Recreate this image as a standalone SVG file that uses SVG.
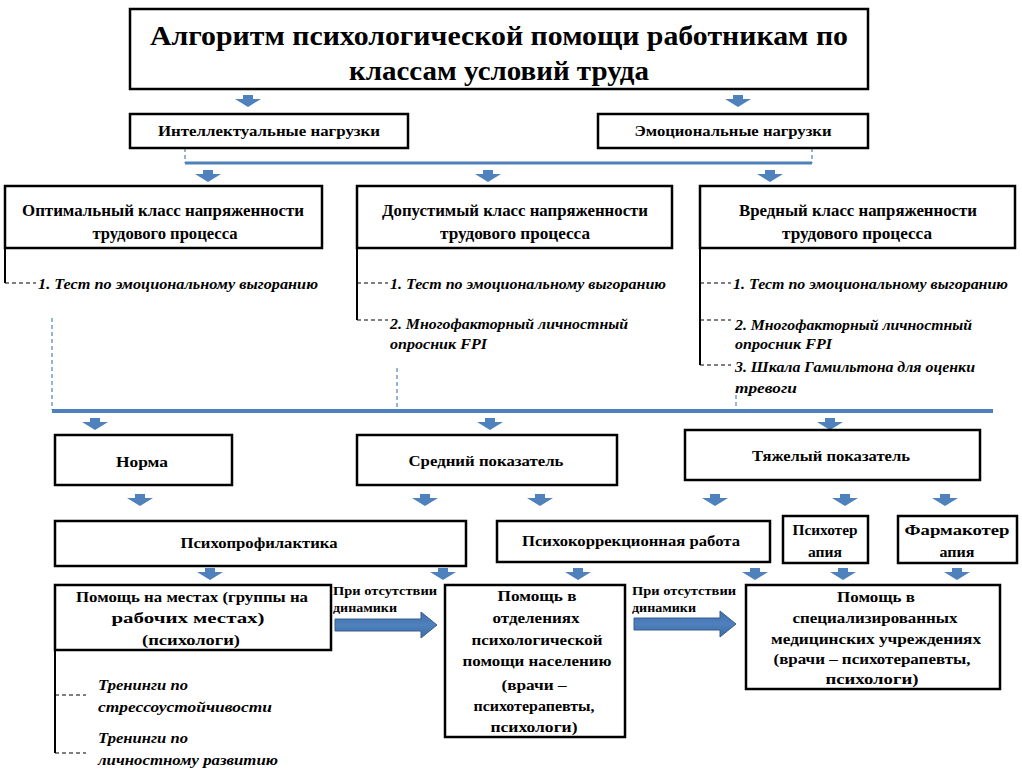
<svg xmlns="http://www.w3.org/2000/svg" xmlns:xlink="http://www.w3.org/1999/xlink" width="1022" height="780" viewBox="0 0 1022 780" font-family="Liberation Serif, DejaVu Serif, serif">
<style>
.box{fill:#fff;stroke:#000;stroke-width:2.5}
.t{font-weight:bold;fill:#000;text-anchor:middle}
.ti{font-weight:bold;font-style:italic;fill:#000}
.s{font-weight:bold;fill:#000;font-size:12px}
.bl{stroke:#000;stroke-width:2;fill:none}
.bd{stroke:#000;stroke-width:1.2;stroke-dasharray:4 3;fill:none}
.blue{stroke:#4F81BD;fill:none}
.bluedash{stroke:#4F81BD;stroke-width:1.2;stroke-dasharray:4 3;fill:none}
.sa{fill:#4F81BD}
.ba{fill:url(#g);stroke:#385D8A;stroke-width:1}
</style>
<defs>
<path id="sa" d="M-5,-6 H5 V-2 H13 L0,6 L-13,-2 H-5 Z"/>
<linearGradient id="g" x1="0" y1="0" x2="0" y2="1">
<stop offset="0" stop-color="#3F6FB0"/>
<stop offset="0.5" stop-color="#4F81BD"/>
<stop offset="1" stop-color="#3A6BA8"/>
</linearGradient>
<path id="ba" d="M0,-6 H86 V-13 L102,0 L86,13 V6 H0 Z"/>
</defs>
<rect width="1022" height="780" fill="#fff"/>

<g id="connectors">
<g class="sa">
<use xlink:href="#sa" x="248" y="101"/>
<use xlink:href="#sa" x="738" y="101"/>
<use xlink:href="#sa" x="208" y="176"/>
<use xlink:href="#sa" x="488" y="176"/>
<use xlink:href="#sa" x="770" y="176"/>
<use xlink:href="#sa" x="95" y="424"/>
<use xlink:href="#sa" x="490" y="424"/>
<use xlink:href="#sa" x="830" y="424"/>
<use xlink:href="#sa" x="140" y="500"/>
<use xlink:href="#sa" x="425" y="500"/>
<use xlink:href="#sa" x="540" y="500"/>
<use xlink:href="#sa" x="715" y="500"/>
<use xlink:href="#sa" x="845" y="500"/>
<use xlink:href="#sa" x="945" y="500"/>
<use xlink:href="#sa" x="210" y="574"/>
<use xlink:href="#sa" x="443" y="574"/>
<use xlink:href="#sa" x="578" y="574"/>
<use xlink:href="#sa" x="755" y="574"/>
<use xlink:href="#sa" x="843" y="574"/>
<use xlink:href="#sa" x="957" y="574"/>
</g>
<path class="bluedash" d="M185,148 V163 M812,148 V163"/>
<path class="blue" stroke-width="3" d="M185,163 H812"/>
<path class="bluedash" d="M52,318 V410 M397,368 V410 M736,395 V410"/>
<path class="blue" stroke-width="4" d="M52,411 H993"/>
<path class="bl" d="M5,248 V283 M357,248 V320 M700,248 V365 M55,650 V753"/>
<path class="bd" d="M5,283 H36 M357,283 H388 M357,320 H388 M700,283 H731 M700,320 H731 M700,365 H731 M55,695 H86 M55,753 H86"/>
<use xlink:href="#ba" class="ba" x="335" y="625"/>
<use xlink:href="#ba" class="ba" x="634" y="624"/>
<text class="s" x="333" y="595" textLength="104" lengthAdjust="spacingAndGlyphs">При отсутствии</text>
<text class="s" x="333" y="612" textLength="64" lengthAdjust="spacingAndGlyphs">динамики</text>
<text class="s" x="632" y="595" textLength="104" lengthAdjust="spacingAndGlyphs">При отсутствии</text>
<text class="s" x="632" y="612" textLength="64" lengthAdjust="spacingAndGlyphs">динамики</text>
</g>

<g id="title">
<rect class="box" x="130" y="9" width="738" height="80"/>
<text class="t" x="499" y="45" font-size="28" textLength="698" lengthAdjust="spacingAndGlyphs">Алгоритм психологической помощи работникам по</text>
<text class="t" x="499" y="80" font-size="28" textLength="300" lengthAdjust="spacingAndGlyphs">классам условий труда</text>
</g>

<g id="intellectual">
<rect class="box" x="130" y="114" width="278" height="34"/>
<text class="t" x="269" y="136" font-size="15" textLength="222" lengthAdjust="spacingAndGlyphs">Интеллектуальные нагрузки</text>
</g>
<g id="emotional">
<rect class="box" x="598" y="114" width="270" height="34"/>
<text class="t" x="733" y="136" font-size="15" textLength="197" lengthAdjust="spacingAndGlyphs">Эмоциональные нагрузки</text>
</g>

<g id="optimal">
<rect class="box" x="5" y="186" width="317" height="62"/>
<text class="t" x="163" y="216" font-size="16" textLength="282" lengthAdjust="spacingAndGlyphs">Оптимальный класс напряженности</text>
<text class="t" x="165" y="239" font-size="16" textLength="145" lengthAdjust="spacingAndGlyphs">трудового процесса</text>
<text class="ti" x="38" y="289" font-size="15" textLength="280" lengthAdjust="spacingAndGlyphs">1. Тест по эмоциональному выгоранию</text>
</g>

<g id="allowable">
<rect class="box" x="357" y="186" width="315" height="62"/>
<text class="t" x="515" y="216" font-size="16" textLength="266" lengthAdjust="spacingAndGlyphs">Допустимый класс напряженности</text>
<text class="t" x="515" y="239" font-size="16" textLength="150" lengthAdjust="spacingAndGlyphs">трудового процесса</text>
<text class="ti" x="390" y="289" font-size="15" textLength="276" lengthAdjust="spacingAndGlyphs">1. Тест по эмоциональному выгоранию</text>
<text class="ti" x="390" y="329" font-size="15" textLength="238" lengthAdjust="spacingAndGlyphs">2. Многофакторный личностный</text>
<text class="ti" x="390" y="349" font-size="15" textLength="97" lengthAdjust="spacingAndGlyphs">опросник FPI</text>
</g>

<g id="harmful">
<rect class="box" x="700" y="186" width="315" height="62"/>
<text class="t" x="858" y="216" font-size="16" textLength="238" lengthAdjust="spacingAndGlyphs">Вредный класс напряженности</text>
<text class="t" x="857" y="239" font-size="16" textLength="150" lengthAdjust="spacingAndGlyphs">трудового процесса</text>
<text class="ti" x="733" y="289" font-size="15" textLength="275" lengthAdjust="spacingAndGlyphs">1. Тест по эмоциональному выгоранию</text>
<text class="ti" x="735" y="330" font-size="15" textLength="237" lengthAdjust="spacingAndGlyphs">2. Многофакторный личностный</text>
<text class="ti" x="735" y="349" font-size="15" textLength="97" lengthAdjust="spacingAndGlyphs">опросник FPI</text>
<text class="ti" x="735" y="372" font-size="15" textLength="240" lengthAdjust="spacingAndGlyphs">3. Шкала Гамильтона для оценки</text>
<text class="ti" x="735" y="393" font-size="15" textLength="62" lengthAdjust="spacingAndGlyphs">тревоги</text>
</g>

<g id="norm">
<rect class="box" x="55" y="435" width="177" height="50"/>
<text class="t" x="142" y="467" font-size="15" textLength="52" lengthAdjust="spacingAndGlyphs">Норма</text>
</g>
<g id="medium">
<rect class="box" x="357" y="435" width="260" height="50"/>
<text class="t" x="486" y="466" font-size="15" textLength="155" lengthAdjust="spacingAndGlyphs">Средний показатель</text>
</g>
<g id="severe">
<rect class="box" x="685" y="430" width="295" height="50"/>
<text class="t" x="831" y="461" font-size="15" textLength="158" lengthAdjust="spacingAndGlyphs">Тяжелый показатель</text>
</g>

<g id="psychoprophylaxis">
<rect class="box" x="55" y="521" width="411" height="45"/>
<text class="t" x="259" y="548" font-size="15" textLength="157" lengthAdjust="spacingAndGlyphs">Психопрофилактика</text>
</g>
<g id="psychocorrection">
<rect class="box" x="497" y="521" width="273" height="41"/>
<text class="t" x="631" y="546" font-size="15" textLength="218" lengthAdjust="spacingAndGlyphs">Психокоррекционная работа</text>
</g>
<g id="psychotherapy">
<rect class="box" x="783" y="516" width="85" height="47"/>
<text class="t" x="825" y="535" font-size="15" textLength="65" lengthAdjust="spacingAndGlyphs">Психотер</text>
<text class="t" x="825" y="557" font-size="15" textLength="34" lengthAdjust="spacingAndGlyphs">апия</text>
</g>
<g id="pharmacotherapy">
<rect class="box" x="898" y="516" width="119" height="47"/>
<text class="t" x="957" y="535" font-size="15" textLength="105" lengthAdjust="spacingAndGlyphs">Фармакотер</text>
<text class="t" x="957" y="557" font-size="15" textLength="35" lengthAdjust="spacingAndGlyphs">апия</text>
</g>

<g id="onsite">
<rect class="box" x="55" y="585" width="276" height="65"/>
<text class="t" x="192" y="602" font-size="15" textLength="232" lengthAdjust="spacingAndGlyphs">Помощь на местах (группы на</text>
<text class="t" x="188" y="623" font-size="15" textLength="153" lengthAdjust="spacingAndGlyphs">рабочих местах)</text>
<text class="t" x="191" y="645" font-size="15" textLength="98" lengthAdjust="spacingAndGlyphs">(психологи)</text>
<text class="ti" x="98" y="690" font-size="15" textLength="90" lengthAdjust="spacingAndGlyphs">Тренинги по</text>
<text class="ti" x="98" y="712" font-size="15" textLength="174" lengthAdjust="spacingAndGlyphs">стрессоустойчивости</text>
<text class="ti" x="98" y="743" font-size="15" textLength="90" lengthAdjust="spacingAndGlyphs">Тренинги по</text>
<text class="ti" x="98" y="765" font-size="15" textLength="180" lengthAdjust="spacingAndGlyphs">личностному развитию</text>
</g>

<g id="departments">
<rect class="box" x="445" y="585" width="180" height="152"/>
<text class="t" x="537" y="601" font-size="15" textLength="79" lengthAdjust="spacingAndGlyphs">Помощь в</text>
<text class="t" x="536" y="623" font-size="15" textLength="87" lengthAdjust="spacingAndGlyphs">отделениях</text>
<text class="t" x="537" y="645" font-size="15" textLength="131" lengthAdjust="spacingAndGlyphs">психологической</text>
<text class="t" x="537" y="666" font-size="15" textLength="149" lengthAdjust="spacingAndGlyphs">помощи населению</text>
<text class="t" x="534" y="690" font-size="15" textLength="65" lengthAdjust="spacingAndGlyphs">(врачи –</text>
<text class="t" x="534" y="711" font-size="15" textLength="121" lengthAdjust="spacingAndGlyphs">психотерапевты,</text>
<text class="t" x="534" y="732" font-size="15" textLength="87" lengthAdjust="spacingAndGlyphs">психологи)</text>
</g>

<g id="specialized">
<rect class="box" x="746" y="585" width="254" height="104"/>
<text class="t" x="876" y="602" font-size="15" textLength="78" lengthAdjust="spacingAndGlyphs">Помощь в</text>
<text class="t" x="875" y="623" font-size="15" textLength="165" lengthAdjust="spacingAndGlyphs">специализированных</text>
<text class="t" x="876" y="644" font-size="15" textLength="210" lengthAdjust="spacingAndGlyphs">медицинских учреждениях</text>
<text class="t" x="872" y="664" font-size="15" textLength="197" lengthAdjust="spacingAndGlyphs">(врачи – психотерапевты,</text>
<text class="t" x="872" y="684" font-size="15" textLength="93" lengthAdjust="spacingAndGlyphs">психологи)</text>
</g>
</svg>
